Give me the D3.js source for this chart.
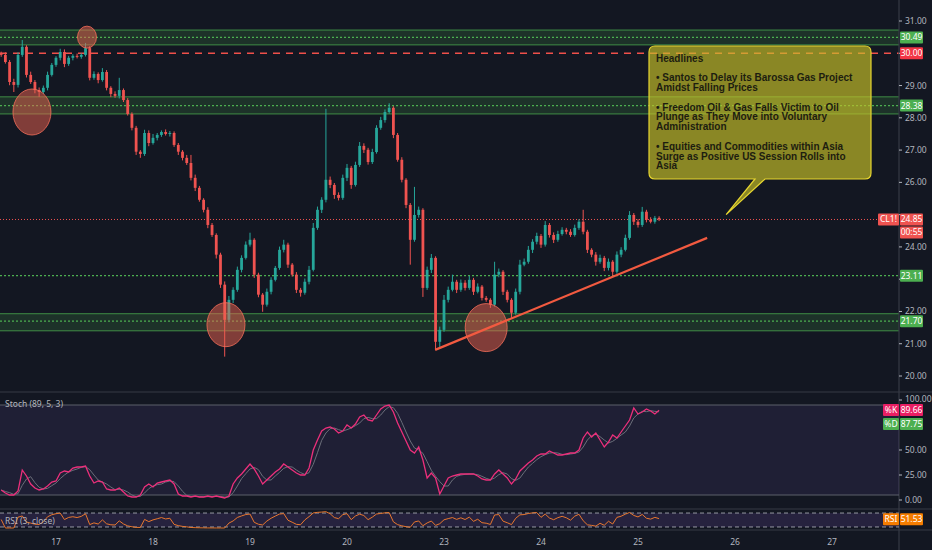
<!DOCTYPE html>
<html><head><meta charset="utf-8">
<script src="https://cdn.jsdelivr.net/npm/d3@7"></script>
<style>html,body{margin:0;padding:0;background:#131722;overflow:hidden}text{font-family:"Noto Sans","Open Sans",sans-serif}</style>
</head><body><svg id="c" width="932" height="550"></svg>
<script>
// ---- data ----
const dayLabels = ["17","18","19","20","23","24","25","26","27"];
const firstOpen = 30.00;
const closes = [29.95,29.73,29.11,29.02,29.95,30.20,29.33,29.11,28.86,28.80,
28.93,29.33,29.64,29.86,30.04,29.67,29.86,29.92,29.89,29.95,
30.16,29.24,29.36,29.17,29.42,28.93,28.74,28.68,28.86,28.55,
28.12,27.69,26.95,26.88,27.53,27.22,27.38,27.47,27.56,27.50,
27.53,27.16,26.95,26.76,26.60,26.14,25.83,25.46,25.15,24.68,
24.37,23.76,22.83,21.74,22.36,22.67,23.29,23.66,24.07,24.22,
23.14,22.52,22.21,22.61,22.98,23.35,23.91,24.07,23.45,23.14,
22.67,22.58,22.92,23.29,24.59,25.15,25.46,26.08,25.92,25.61,
25.52,26.14,26.45,25.92,26.54,27.13,27.01,26.63,26.94,27.69,
27.93,28.18,28.31,27.47,26.70,26.08,25.30,24.22,24.99,25.15,
22.73,23.29,23.66,21.06,21.43,22.36,22.67,22.92,22.67,22.89,
22.73,22.98,22.61,22.77,22.42,22.36,22.21,23.14,23.23,22.61,
22.36,21.96,22.61,23.45,23.54,23.91,24.16,24.34,24.07,24.68,
24.37,24.22,24.40,24.53,24.47,24.37,24.59,24.78,24.47,23.91,
23.76,23.54,23.66,23.35,23.54,23.23,23.76,23.91,24.28,24.99,
24.78,24.68,25.09,24.84,24.78,24.90,24.85];
const upW = [0.05,0.08,0.06,0.10,0.08,0.21,0.05,0.10,0.06,0.08,
0.07,0.10,0.06,0.05,0.10,0.08,0.06,0.05,0.07,0.05,
0.16,0.06,0.08,0.05,0.12,0.06,0.05,0.08,0.38,0.05,
0.06,0.05,0.06,0.05,0.10,0.08,0.12,0.06,0.05,0.08,
0.06,0.05,0.06,0.05,0.09,0.25,0.10,0.06,0.05,0.08,
0.06,0.05,0.06,0.10,0.12,0.08,0.10,0.08,0.10,0.22,
0.05,0.06,0.05,0.10,0.08,0.06,0.10,0.15,0.06,0.05,
0.08,0.06,0.10,0.12,0.15,0.10,0.08,2.20,0.10,0.06,
0.08,0.10,0.12,0.06,0.10,0.12,0.08,0.06,0.10,0.08,
0.10,0.08,0.14,0.05,0.06,0.08,0.05,0.06,0.87,0.10,
0.05,0.10,0.12,0.05,0.10,0.15,0.10,0.22,0.06,0.10,
0.08,0.12,0.06,0.10,0.05,0.06,0.05,0.40,0.10,0.05,
0.06,0.05,0.10,0.15,0.10,0.12,0.08,0.10,0.06,0.12,
0.06,0.08,0.10,0.08,0.06,0.08,0.10,0.08,0.37,0.06,
0.05,0.08,0.10,0.06,0.10,0.05,0.10,0.08,0.10,0.12,
0.06,0.08,0.15,0.06,0.08,0.06,0.05];
const dnW = [0.06,0.05,0.10,0.22,0.08,0.06,0.08,0.06,0.10,0.15,
0.06,0.08,0.05,0.06,0.08,0.10,0.06,0.08,0.05,0.06,
0.05,0.08,0.06,0.10,0.05,0.08,0.10,0.06,0.08,0.06,
0.05,0.08,0.10,0.12,0.06,0.10,0.05,0.08,0.06,0.05,
0.08,0.06,0.10,0.08,0.06,0.08,0.10,0.06,0.08,0.10,
0.06,0.12,0.10,1.14,0.08,0.10,0.06,0.08,0.05,0.06,
0.10,0.08,0.22,0.06,0.08,0.05,0.06,0.08,0.10,0.06,
0.10,0.12,0.06,0.08,0.05,0.06,0.10,0.08,0.10,0.12,
0.08,0.06,0.10,0.12,0.05,0.06,0.10,0.08,0.06,0.05,
0.06,0.08,0.05,0.10,0.06,0.08,0.10,0.77,0.06,0.08,
0.28,0.06,0.10,0.25,0.16,0.06,0.08,0.05,0.10,0.06,
0.08,0.06,0.10,0.05,0.08,0.06,0.10,0.06,0.08,0.10,
0.08,0.16,0.06,0.08,0.05,0.06,0.10,0.08,0.10,0.06,
0.08,0.10,0.06,0.05,0.08,0.06,0.05,0.06,0.08,0.10,
0.08,0.12,0.06,0.10,0.08,0.12,0.06,0.08,0.05,0.06,
0.10,0.08,0.06,0.08,0.05,0.06,0.05];
const stochK = [10,7,5,5,9,30,24,16,12,10,
11,14,18,19,27,29,28,32,33,33,
34,24,17,19,18,11,10,10,12,8,
4,3,3,5,13,16,13,17,18,19,
20,16,6,4,4,3,4,3,3,4,
3,4,3,2,4,16,22,26,31,36,
31,24,16,20,24,28,31,36,33,30,
27,25,25,32,50,60,69,72,73,71,
67,69,75,72,76,83,85,80,79,85,
91,94,95,88,77,68,59,50,47,53,
40,22,27,22,6,14,22,24,25,26,
26,26,26,24,21,20,20,26,30,26,
22,16,21,29,33,37,40,44,46,46,
49,47,45,45,46,47,47,50,62,68,
63,67,60,53,58,65,62,68,74,80,
92,86,88,91,89,86,89.66];
const priceTicks = [20,21,22,23,24,25,26,27,28,29,30,31];
const stochTicks = [0,25,50,100];
const zones = [{c:30.49, lo:30.26, hi:30.72},{c:28.38, lo:28.12, hi:28.65},{c:21.70, lo:21.40, hi:21.93}];
const dottedLevels = [23.11];
const redLevel = 30.00;
const lastPrice = 24.85, lastD = 87.75, lastRSI = 51.53;
const ellipses = [{h:7.35,p:30.5,rx:9.5,ry:11},{h:-5.7,p:28.18,rx:19,ry:23},{h:40.3,p:21.59,rx:19,ry:22},{h:102,p:21.5,rx:21,ry:24}];
const trend = [{h:89.9,p:20.81},{h:154.4,p:24.28}];
const calloutTip = {h:158.9,p:25.0};
const headlines = ["Headlines","","• Santos to Delay its Barossa Gas Project","Amidst Falling Prices","","• Freedom Oil & Gas Falls Victim to Oil","Plunge as They Move into Voluntary","Administration","","• Equities and Commodities within Asia","Surge as Positive US Session Rolls into","Asia"];
const hourOffset = 13, hoursPerDay = 23;

// ---- layout ----
const W=932,H=550, axisX=899;
const svg=d3.select("#c");
const x=d3.scaleLinear().domain([0,8*hoursPerDay]).range([56,832]);
const y=d3.scaleLinear().domain([20,31]).range([376,21]);
const ys=d3.scaleLinear().domain([0,100]).range([500,400]);
const yr=d3.scaleLinear().domain([0,100]).range([528,511]);
const grid="#363a45", txt="#b2b5be", up="#26a69a", dn="#ef5350", green="#4caf50";

svg.append("rect").attr("width",W).attr("height",H).attr("fill","#131722");
const defs=svg.append("defs");
defs.append("clipPath").attr("id","mainclip").append("rect").attr("x",0).attr("y",0).attr("width",axisX).attr("height",392);

const main=svg.append("g").attr("clip-path","url(#mainclip)");
zones.forEach(z=>{
  main.append("rect").attr("x",0).attr("width",axisX).attr("y",y(z.hi)).attr("height",y(z.lo)-y(z.hi)).attr("fill","rgba(76,175,80,0.18)");
  [z.hi,z.lo].forEach(v=>main.append("line").attr("x1",0).attr("x2",axisX).attr("y1",y(v)).attr("y2",y(v)).attr("stroke",green).attr("stroke-opacity",0.75).attr("stroke-width",1));
  main.append("line").attr("x1",0).attr("x2",axisX).attr("y1",y(z.c)).attr("y2",y(z.c)).attr("stroke",green).attr("stroke-width",1.2).attr("stroke-dasharray","2,2");
});
dottedLevels.forEach(v=>main.append("line").attr("x1",0).attr("x2",axisX).attr("y1",y(v)).attr("y2",y(v)).attr("stroke",green).attr("stroke-width",1.2).attr("stroke-dasharray","2,2"));
main.append("line").attr("x1",0).attr("x2",axisX).attr("y1",y(redLevel)).attr("y2",y(redLevel)).attr("stroke","#f0504a").attr("stroke-width",1.6).attr("stroke-dasharray","7,6");
main.append("line").attr("x1",0).attr("x2",axisX).attr("y1",y(lastPrice)).attr("y2",y(lastPrice)).attr("stroke","#ef5350").attr("stroke-width",1).attr("stroke-dasharray","1,2");

const bars=closes.map((c,i)=>{const o=i===0?firstOpen:closes[i-1];return {h:i-hourOffset,o,c,hi:Math.max(o,c)+upW[i],lo:Math.min(o,c)-dnW[i]};});
const cg=main.append("g");
bars.forEach(b=>{
  const col=b.c>=b.o?up:dn, cx=x(b.h);
  cg.append("line").attr("x1",cx).attr("x2",cx).attr("y1",y(b.hi)).attr("y2",y(b.lo)).attr("stroke",col).attr("stroke-width",1);
  const t=y(Math.max(b.o,b.c)), bt=y(Math.min(b.o,b.c));
  cg.append("rect").attr("x",cx-1.4).attr("width",2.8).attr("y",t).attr("height",Math.max(1,bt-t)).attr("fill",col);
});
ellipses.forEach(e=>main.append("ellipse").attr("cx",x(e.h)).attr("cy",y(e.p)).attr("rx",e.rx).attr("ry",e.ry).attr("fill","rgba(240,100,80,0.5)").attr("stroke","rgba(245,110,90,0.8)").attr("stroke-width",1));
main.append("line").attr("x1",x(trend[0].h)).attr("y1",y(trend[0].p)).attr("x2",x(trend[1].h)).attr("y2",y(trend[1].p)).attr("stroke","#f25a40").attr("stroke-width",2.2);

// callout
const bx=649,by=46,bw=222,bh=133;
const cg2=svg.append("g");
cg2.append("path").attr("d",`M${bx+6},${by} H${bx+bw-6} Q${bx+bw},${by} ${bx+bw},${by+6} V${by+bh-6} Q${bx+bw},${by+bh} ${bx+bw-6},${by+bh} H765 L${x(calloutTip.h)},${y(calloutTip.p)} L755,${by+bh} H${bx+6} Q${bx},${by+bh} ${bx},${by+bh-6} V${by+6} Q${bx},${by} ${bx+6},${by} Z`)
  .attr("fill","rgba(200,195,40,0.66)").attr("stroke","#e6d530").attr("stroke-width",1.2);
headlines.forEach((t,i)=>{ if(!t) return;
  cg2.append("text").attr("x",656).attr("y",61.5+i*9.8).attr("fill","#1d1d10").attr("font-size","10px").attr("font-weight","bold")
   .style("font-family","'Liberation Sans',Arial,sans-serif").text(t);
});

[392,509,530].forEach(v=>svg.append("line").attr("x1",0).attr("x2",W).attr("y1",v).attr("y2",v).attr("stroke",grid).attr("stroke-width",1.2));
svg.append("line").attr("x1",axisX).attr("x2",axisX).attr("y1",0).attr("y2",H).attr("stroke",grid).attr("stroke-width",1.2);

// stoch panel
svg.append("rect").attr("x",0).attr("width",axisX).attr("y",ys(95)).attr("height",ys(5)-ys(95)).attr("fill","rgba(126,87,194,0.12)");
[95,5].forEach(v=>svg.append("line").attr("x1",0).attr("x2",axisX).attr("y1",ys(v)).attr("y2",ys(v)).attr("stroke","#5d606b").attr("stroke-width",1));
const stochD=stochK.map((k,i)=>d3.mean(stochK.slice(Math.max(0,i-2),i+1)));
const ln=(arr,sc)=>d3.line().x((d,i)=>x(i-hourOffset)).y(d=>sc(d))(arr);
svg.append("path").attr("d",ln(stochD,ys)).attr("fill","none").attr("stroke","#6b6e7a").attr("stroke-width",1);
svg.append("path").attr("d",ln(stochK,ys)).attr("fill","none").attr("stroke","#ec2f7b").attr("stroke-width",1.3);
svg.append("text").attr("x",5).attr("y",407).attr("fill",txt).attr("font-size","8.5px").text("Stoch (89, 5, 3)");

// RSI panel
svg.append("rect").attr("x",0).attr("width",axisX).attr("y",yr(88)).attr("height",yr(6)-yr(88)).attr("fill","rgba(126,87,194,0.18)");
[88,6].forEach(v=>svg.append("line").attr("x1",0).attr("x2",axisX).attr("y1",yr(v)).attr("y2",yr(v)).attr("stroke","#9598a1").attr("stroke-width",1).attr("stroke-dasharray","4,3"));
const rsi=[]; let ag=0, al=0;
closes.forEach((c,i)=>{ if(i===0){rsi.push(50);return;} const ch=c-closes[i-1], g=Math.max(ch,0), l=Math.max(-ch,0);
  if(i===1){ag=g;al=l;} else {ag=(ag*2+g)/3; al=(al*2+l)/3;}
  rsi.push(al===0?100:100-100/(1+ag/al)); });
svg.append("path").attr("d",ln(rsi,yr)).attr("fill","none").attr("stroke","#e8772e").attr("stroke-width",1);
svg.append("text").attr("x",5).attr("y",524).attr("fill",txt).attr("font-size","8.5px").text("RSI (3, close)");

// label boxes (positions collected first so ticks under them can be skipped)
const fmt=d3.format(".2f");
const boxes=[];
zones.forEach(z=>boxes.push([900,23,y(z.c),green,fmt(z.c)]));
dottedLevels.forEach(v=>boxes.push([900,23,y(v),green,fmt(v)]));
boxes.push([900,23,y(redLevel),"#f23645",fmt(redLevel)]);
boxes.push([878,21,y(lastPrice),"#ef5350","CL1!"]);
boxes.push([900,23,y(lastPrice),"#ef5350",fmt(lastPrice)]);
boxes.push([900,23,y(lastPrice)+13,"#ef5350","00:55"]);
const kY=ys(stochK[stochK.length-1])-0.3;
boxes.push([883,16,kY,"#e91e63","%K"],[900,23,kY,"#e91e63",fmt(stochK[stochK.length-1])]);
boxes.push([883,16,kY+14,"#4caf50","%D"],[900,23,kY+14,"#4caf50",fmt(lastD)]);
boxes.push([883,16,yr(lastRSI),"#f57c00","RSI"],[900,23,yr(lastRSI),"#f57c00",fmt(lastRSI)]);
const free=cy=>!boxes.some(b=>b[0]>=900&&Math.abs(b[2]-cy)<9.5);

priceTicks.forEach(v=>{svg.append("line").attr("x1",axisX).attr("x2",axisX+3).attr("y1",y(v)).attr("y2",y(v)).attr("stroke",txt);
  if(free(y(v))) svg.append("text").attr("x",905).attr("y",y(v)+3).attr("fill",txt).attr("font-size","8.5px").text(fmt(v));});
stochTicks.forEach(v=>{svg.append("line").attr("x1",axisX).attr("x2",axisX+3).attr("y1",ys(v)).attr("y2",ys(v)).attr("stroke",txt);
  svg.append("text").attr("x",905).attr("y",v===100?ys(v)+1.5:ys(v)+3).attr("fill",txt).attr("font-size","8.5px").text(fmt(v));});
dayLabels.forEach((d,i)=>svg.append("text").attr("x",x(i*hoursPerDay)).attr("y",545).attr("text-anchor","middle").attr("fill",txt).attr("font-size","8.5px").text(d));

boxes.forEach(([x0,w,cy,fill,label])=>{svg.append("rect").attr("x",x0).attr("y",cy-6).attr("width",w).attr("height",12).attr("fill",fill).attr("rx",1);
  svg.append("text").attr("x",x0+w/2).attr("y",cy+3).attr("text-anchor","middle").attr("fill","#fff").attr("font-size","8.5px").text(label);});
</script></body></html>
